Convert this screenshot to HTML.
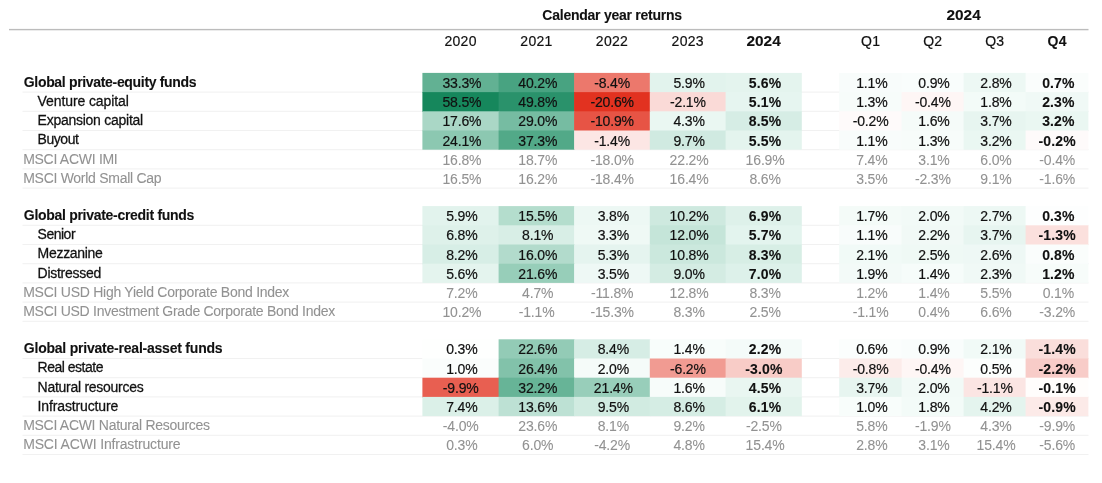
<!DOCTYPE html>
<html><head><meta charset="utf-8"><title>Calendar year returns</title>
<style>
html,body{margin:0;padding:0;background:#fff;}
body{width:1102px;height:483px;position:relative;overflow:hidden;font-family:"Liberation Sans",sans-serif;font-size:14px;line-height:16px;color:#111;-webkit-text-stroke:0.2px #111;}
svg{position:absolute;left:0;top:0;}
.a{position:absolute;white-space:nowrap;letter-spacing:-0.25px;}
.c{position:absolute;text-align:center;white-space:nowrap;letter-spacing:-0.15px;}
.w{display:inline-block;transform:scaleX(1.1);}
.b{font-weight:bold;-webkit-text-stroke:0.1px #111;}
.s{-webkit-text-stroke:0.26px #111;}
.m{color:#929292;-webkit-text-stroke:0.08px #929292;}
</style></head><body>

<svg width="1102" height="483" viewBox="0 0 1102 483">
<rect x="9" y="28.9" width="1079.5" height="1.4" fill="#bcbcbc"/>
<rect x="22.5" y="91.6" width="1066" height="1" fill="#f1f1f1"/>
<rect x="22.5" y="110.8" width="1066" height="1" fill="#f1f1f1"/>
<rect x="22.5" y="130.0" width="1066" height="1" fill="#f1f1f1"/>
<rect x="22.5" y="149.2" width="1066" height="1" fill="#f1f1f1"/>
<rect x="22.5" y="168.4" width="1066" height="1" fill="#f1f1f1"/>
<rect x="22.5" y="187.6" width="1066" height="1" fill="#f1f1f1"/>
<rect x="422.4" y="72.9" width="76.9" height="19.9" fill="rgb(98,177,147)"/>
<rect x="498.6" y="72.9" width="76.2" height="19.9" fill="rgb(72,163,129)"/>
<rect x="574.1" y="72.9" width="76.4" height="19.9" fill="rgb(236,120,108)"/>
<rect x="649.8" y="72.9" width="76.5" height="19.9" fill="rgb(226,243,237)"/>
<rect x="725.6" y="72.9" width="76.2" height="19.9" fill="rgb(228,244,238)"/>
<rect x="839.2" y="72.9" width="63.1" height="19.9" fill="rgb(248,252,251)"/>
<rect x="901.6" y="72.9" width="62.7" height="19.9" fill="rgb(249,253,252)"/>
<rect x="963.6" y="72.9" width="62.7" height="19.9" fill="rgb(237,248,244)"/>
<rect x="1025.6" y="72.9" width="62.8" height="19.9" fill="rgb(250,253,252)"/>
<rect x="422.4" y="92.1" width="76.9" height="19.9" fill="rgb(22,135,92)"/>
<rect x="498.6" y="92.1" width="76.2" height="19.9" fill="rgb(42,146,107)"/>
<rect x="574.1" y="92.1" width="76.4" height="19.9" fill="rgb(226,50,32)"/>
<rect x="649.8" y="92.1" width="76.5" height="19.9" fill="rgb(250,218,215)"/>
<rect x="725.6" y="92.1" width="76.2" height="19.9" fill="rgb(230,245,240)"/>
<rect x="839.2" y="92.1" width="63.1" height="19.9" fill="rgb(247,252,250)"/>
<rect x="901.6" y="92.1" width="62.7" height="19.9" fill="rgb(254,246,245)"/>
<rect x="963.6" y="92.1" width="62.7" height="19.9" fill="rgb(243,251,248)"/>
<rect x="1025.6" y="92.1" width="62.8" height="19.9" fill="rgb(240,249,246)"/>
<rect x="422.4" y="111.3" width="76.9" height="19.9" fill="rgb(170,215,198)"/>
<rect x="498.6" y="111.3" width="76.2" height="19.9" fill="rgb(118,188,162)"/>
<rect x="574.1" y="111.3" width="76.4" height="19.9" fill="rgb(231,84,69)"/>
<rect x="649.8" y="111.3" width="76.5" height="19.9" fill="rgb(234,247,242)"/>
<rect x="725.6" y="111.3" width="76.2" height="19.9" fill="rgb(214,237,229)"/>
<rect x="839.2" y="111.3" width="63.1" height="19.9" fill="rgb(254,250,250)"/>
<rect x="901.6" y="111.3" width="62.7" height="19.9" fill="rgb(245,251,249)"/>
<rect x="963.6" y="111.3" width="62.7" height="19.9" fill="rgb(231,245,240)"/>
<rect x="1025.6" y="111.3" width="62.8" height="19.9" fill="rgb(234,247,242)"/>
<rect x="422.4" y="130.5" width="76.9" height="19.2" fill="rgb(140,200,177)"/>
<rect x="498.6" y="130.5" width="76.2" height="19.2" fill="rgb(82,169,136)"/>
<rect x="574.1" y="130.5" width="76.4" height="19.2" fill="rgb(252,230,228)"/>
<rect x="649.8" y="130.5" width="76.5" height="19.2" fill="rgb(208,234,225)"/>
<rect x="725.6" y="130.5" width="76.2" height="19.2" fill="rgb(228,244,238)"/>
<rect x="839.2" y="130.5" width="63.1" height="19.2" fill="rgb(248,252,251)"/>
<rect x="901.6" y="130.5" width="62.7" height="19.2" fill="rgb(247,252,250)"/>
<rect x="963.6" y="130.5" width="62.7" height="19.2" fill="rgb(234,247,242)"/>
<rect x="1025.6" y="130.5" width="62.8" height="19.2" fill="rgb(254,250,250)"/>
<rect x="22.5" y="224.8" width="1066" height="1" fill="#f1f1f1"/>
<rect x="22.5" y="244.0" width="1066" height="1" fill="#f1f1f1"/>
<rect x="22.5" y="263.2" width="1066" height="1" fill="#f1f1f1"/>
<rect x="22.5" y="282.4" width="1066" height="1" fill="#f1f1f1"/>
<rect x="22.5" y="301.6" width="1066" height="1" fill="#f1f1f1"/>
<rect x="22.5" y="320.8" width="1066" height="1" fill="#f1f1f1"/>
<rect x="422.4" y="206.1" width="76.9" height="19.9" fill="rgb(226,243,237)"/>
<rect x="498.6" y="206.1" width="76.2" height="19.9" fill="rgb(180,221,205)"/>
<rect x="574.1" y="206.1" width="76.4" height="19.9" fill="rgb(237,248,244)"/>
<rect x="649.8" y="206.1" width="76.5" height="19.9" fill="rgb(206,233,223)"/>
<rect x="725.6" y="206.1" width="76.2" height="19.9" fill="rgb(222,241,234)"/>
<rect x="839.2" y="206.1" width="63.1" height="19.9" fill="rgb(244,251,248)"/>
<rect x="901.6" y="206.1" width="62.7" height="19.9" fill="rgb(242,250,247)"/>
<rect x="963.6" y="206.1" width="62.7" height="19.9" fill="rgb(237,248,244)"/>
<rect x="1025.6" y="206.1" width="62.8" height="19.9" fill="rgb(253,254,254)"/>
<rect x="422.4" y="225.3" width="76.9" height="19.9" fill="rgb(222,241,234)"/>
<rect x="498.6" y="225.3" width="76.2" height="19.9" fill="rgb(216,238,230)"/>
<rect x="574.1" y="225.3" width="76.4" height="19.9" fill="rgb(239,249,245)"/>
<rect x="649.8" y="225.3" width="76.5" height="19.9" fill="rgb(197,229,217)"/>
<rect x="725.6" y="225.3" width="76.2" height="19.9" fill="rgb(227,244,238)"/>
<rect x="839.2" y="225.3" width="63.1" height="19.9" fill="rgb(248,252,251)"/>
<rect x="901.6" y="225.3" width="62.7" height="19.9" fill="rgb(241,249,246)"/>
<rect x="963.6" y="225.3" width="62.7" height="19.9" fill="rgb(231,245,240)"/>
<rect x="1025.6" y="225.3" width="62.8" height="19.9" fill="rgb(251,224,221)"/>
<rect x="422.4" y="244.5" width="76.9" height="19.9" fill="rgb(215,238,230)"/>
<rect x="498.6" y="244.5" width="76.2" height="19.9" fill="rgb(178,219,204)"/>
<rect x="574.1" y="244.5" width="76.4" height="19.9" fill="rgb(229,244,239)"/>
<rect x="649.8" y="244.5" width="76.5" height="19.9" fill="rgb(203,232,221)"/>
<rect x="725.6" y="244.5" width="76.2" height="19.9" fill="rgb(215,238,229)"/>
<rect x="839.2" y="244.5" width="63.1" height="19.9" fill="rgb(241,250,247)"/>
<rect x="901.6" y="244.5" width="62.7" height="19.9" fill="rgb(239,249,245)"/>
<rect x="963.6" y="244.5" width="62.7" height="19.9" fill="rgb(238,248,245)"/>
<rect x="1025.6" y="244.5" width="62.8" height="19.9" fill="rgb(250,253,252)"/>
<rect x="422.4" y="263.7" width="76.9" height="19.2" fill="rgb(228,244,238)"/>
<rect x="498.6" y="263.7" width="76.2" height="19.2" fill="rgb(151,206,185)"/>
<rect x="574.1" y="263.7" width="76.4" height="19.2" fill="rgb(238,248,245)"/>
<rect x="649.8" y="263.7" width="76.5" height="19.2" fill="rgb(212,236,227)"/>
<rect x="725.6" y="263.7" width="76.2" height="19.2" fill="rgb(221,241,234)"/>
<rect x="839.2" y="263.7" width="63.1" height="19.2" fill="rgb(243,250,248)"/>
<rect x="901.6" y="263.7" width="62.7" height="19.2" fill="rgb(246,252,250)"/>
<rect x="963.6" y="263.7" width="62.7" height="19.2" fill="rgb(240,249,246)"/>
<rect x="1025.6" y="263.7" width="62.8" height="19.2" fill="rgb(247,252,250)"/>
<rect x="22.5" y="358.0" width="1066" height="1" fill="#f1f1f1"/>
<rect x="22.5" y="377.2" width="1066" height="1" fill="#f1f1f1"/>
<rect x="22.5" y="396.4" width="1066" height="1" fill="#f1f1f1"/>
<rect x="22.5" y="415.6" width="1066" height="1" fill="#f1f1f1"/>
<rect x="22.5" y="434.8" width="1066" height="1" fill="#f1f1f1"/>
<rect x="22.5" y="454.0" width="1066" height="1" fill="#f1f1f1"/>
<rect x="422.4" y="339.3" width="76.9" height="19.9" fill="rgb(254,255,254)"/>
<rect x="498.6" y="339.3" width="76.2" height="19.9" fill="rgb(147,203,182)"/>
<rect x="574.1" y="339.3" width="76.4" height="19.9" fill="rgb(214,237,229)"/>
<rect x="649.8" y="339.3" width="76.5" height="19.9" fill="rgb(248,253,251)"/>
<rect x="725.6" y="339.3" width="76.2" height="19.9" fill="rgb(244,251,249)"/>
<rect x="839.2" y="339.3" width="63.1" height="19.9" fill="rgb(251,254,253)"/>
<rect x="901.6" y="339.3" width="62.7" height="19.9" fill="rgb(249,253,252)"/>
<rect x="963.6" y="339.3" width="62.7" height="19.9" fill="rgb(241,250,247)"/>
<rect x="1025.6" y="339.3" width="62.8" height="19.9" fill="rgb(250,222,219)"/>
<rect x="422.4" y="358.5" width="76.9" height="19.9" fill="rgb(250,253,252)"/>
<rect x="498.6" y="358.5" width="76.2" height="19.9" fill="rgb(130,194,170)"/>
<rect x="574.1" y="358.5" width="76.4" height="19.9" fill="rgb(245,251,249)"/>
<rect x="649.8" y="358.5" width="76.5" height="19.9" fill="rgb(241,155,146)"/>
<rect x="725.6" y="358.5" width="76.2" height="19.9" fill="rgb(248,204,199)"/>
<rect x="839.2" y="358.5" width="63.1" height="19.9" fill="rgb(252,236,234)"/>
<rect x="901.6" y="358.5" width="62.7" height="19.9" fill="rgb(254,246,245)"/>
<rect x="963.6" y="358.5" width="62.7" height="19.9" fill="rgb(252,254,253)"/>
<rect x="1025.6" y="358.5" width="62.8" height="19.9" fill="rgb(248,204,200)"/>
<rect x="422.4" y="377.7" width="76.9" height="19.9" fill="rgb(232,95,81)"/>
<rect x="498.6" y="377.7" width="76.2" height="19.9" fill="rgb(103,180,151)"/>
<rect x="574.1" y="377.7" width="76.4" height="19.9" fill="rgb(152,206,186)"/>
<rect x="649.8" y="377.7" width="76.5" height="19.9" fill="rgb(247,252,250)"/>
<rect x="725.6" y="377.7" width="76.2" height="19.9" fill="rgb(233,246,241)"/>
<rect x="839.2" y="377.7" width="63.1" height="19.9" fill="rgb(231,245,240)"/>
<rect x="901.6" y="377.7" width="62.7" height="19.9" fill="rgb(242,250,247)"/>
<rect x="963.6" y="377.7" width="62.7" height="19.9" fill="rgb(251,229,227)"/>
<rect x="1025.6" y="377.7" width="62.8" height="19.9" fill="rgb(255,253,252)"/>
<rect x="422.4" y="396.9" width="76.9" height="19.2" fill="rgb(219,240,232)"/>
<rect x="498.6" y="396.9" width="76.2" height="19.2" fill="rgb(189,225,212)"/>
<rect x="574.1" y="396.9" width="76.4" height="19.2" fill="rgb(209,235,225)"/>
<rect x="649.8" y="396.9" width="76.5" height="19.2" fill="rgb(213,237,228)"/>
<rect x="725.6" y="396.9" width="76.2" height="19.2" fill="rgb(226,243,236)"/>
<rect x="839.2" y="396.9" width="63.1" height="19.2" fill="rgb(248,253,251)"/>
<rect x="901.6" y="396.9" width="62.7" height="19.2" fill="rgb(243,251,248)"/>
<rect x="963.6" y="396.9" width="62.7" height="19.2" fill="rgb(228,244,238)"/>
<rect x="1025.6" y="396.9" width="62.8" height="19.2" fill="rgb(252,234,232)"/>
</svg>
<div class="a b" style="left:422.4px;width:379.4px;top:7px;text-align:center;">Calendar year returns</div>
<div class="a b" style="left:839.2px;width:249.2px;top:7px;text-align:center;letter-spacing:0;"><span class="w">2024</span></div>
<div class="c" style="left:422.5px;width:76.2px;top:33px;letter-spacing:0.3px;">2020</div>
<div class="c" style="left:498.8px;width:75.5px;top:33px;letter-spacing:0.3px;">2021</div>
<div class="c" style="left:574.2px;width:75.7px;top:33px;letter-spacing:0.3px;">2022</div>
<div class="c" style="left:649.9px;width:75.8px;top:33px;letter-spacing:0.3px;">2023</div>
<div class="c b" style="left:725.6px;width:76.2px;top:33px;letter-spacing:0px;"><span class="w">2024</span></div>
<div class="c" style="left:839.4px;width:62.4px;top:33px;letter-spacing:0.3px;">Q1</div>
<div class="c" style="left:901.8px;width:62.0px;top:33px;letter-spacing:0.3px;">Q2</div>
<div class="c" style="left:963.8px;width:62.0px;top:33px;letter-spacing:0.3px;">Q3</div>
<div class="c b" style="left:1025.8px;width:62.8px;top:33px;letter-spacing:0.3px;">Q4</div>
<div class="a b" style="left:23.8px;top:74px;letter-spacing:-0.327px;">Global private-equity funds</div>
<div class="c" style="left:423.8px;width:76.2px;top:75px;">33.3%</div>
<div class="c" style="left:500.0px;width:75.5px;top:75px;">40.2%</div>
<div class="c" style="left:574.3px;width:75.7px;top:75px;">-8.4%</div>
<div class="c" style="left:651.2px;width:75.8px;top:75px;">5.9%</div>
<div class="c b" style="left:727.0px;width:76.2px;top:75px;letter-spacing:0.15px;">5.6%</div>
<div class="c" style="left:840.6px;width:62.4px;top:75px;">1.1%</div>
<div class="c" style="left:903.0px;width:62.0px;top:75px;">0.9%</div>
<div class="c" style="left:965.0px;width:62.0px;top:75px;">2.8%</div>
<div class="c b" style="left:1027.0px;width:62.8px;top:75px;letter-spacing:0.15px;">0.7%</div>
<div class="a s" style="left:37.6px;top:93px;letter-spacing:-0.101px;">Venture capital</div>
<div class="c" style="left:423.8px;width:76.2px;top:94px;">58.5%</div>
<div class="c" style="left:500.0px;width:75.5px;top:94px;">49.8%</div>
<div class="c" style="left:574.3px;width:75.7px;top:94px;">-20.6%</div>
<div class="c" style="left:650.0px;width:75.8px;top:94px;">-2.1%</div>
<div class="c b" style="left:727.0px;width:76.2px;top:94px;letter-spacing:0.15px;">5.1%</div>
<div class="c" style="left:840.6px;width:62.4px;top:94px;">1.3%</div>
<div class="c" style="left:901.8px;width:62.0px;top:94px;">-0.4%</div>
<div class="c" style="left:965.0px;width:62.0px;top:94px;">1.8%</div>
<div class="c b" style="left:1027.0px;width:62.8px;top:94px;letter-spacing:0.15px;">2.3%</div>
<div class="a s" style="left:37.6px;top:112px;letter-spacing:-0.26px;">Expansion capital</div>
<div class="c" style="left:423.8px;width:76.2px;top:113px;">17.6%</div>
<div class="c" style="left:500.0px;width:75.5px;top:113px;">29.0%</div>
<div class="c" style="left:574.3px;width:75.7px;top:113px;">-10.9%</div>
<div class="c" style="left:651.2px;width:75.8px;top:113px;">4.3%</div>
<div class="c b" style="left:727.0px;width:76.2px;top:113px;letter-spacing:0.15px;">8.5%</div>
<div class="c" style="left:839.4px;width:62.4px;top:113px;">-0.2%</div>
<div class="c" style="left:903.0px;width:62.0px;top:113px;">1.6%</div>
<div class="c" style="left:965.0px;width:62.0px;top:113px;">3.7%</div>
<div class="c b" style="left:1027.0px;width:62.8px;top:113px;letter-spacing:0.15px;">3.2%</div>
<div class="a s" style="left:37.6px;top:131px;letter-spacing:-0.458px;">Buyout</div>
<div class="c" style="left:423.8px;width:76.2px;top:133px;">24.1%</div>
<div class="c" style="left:500.0px;width:75.5px;top:133px;">37.3%</div>
<div class="c" style="left:574.3px;width:75.7px;top:133px;">-1.4%</div>
<div class="c" style="left:651.2px;width:75.8px;top:133px;">9.7%</div>
<div class="c b" style="left:727.0px;width:76.2px;top:133px;letter-spacing:0.15px;">5.5%</div>
<div class="c" style="left:840.6px;width:62.4px;top:133px;">1.1%</div>
<div class="c" style="left:903.0px;width:62.0px;top:133px;">1.3%</div>
<div class="c" style="left:965.0px;width:62.0px;top:133px;">3.2%</div>
<div class="c b" style="left:1025.8px;width:62.8px;top:133px;letter-spacing:0.15px;">-0.2%</div>
<div class="a m" style="left:23.2px;top:151px;letter-spacing:-0.286px;">MSCI ACWI IMI</div>
<div class="c m" style="left:423.8px;width:76.2px;top:152px;">16.8%</div>
<div class="c m" style="left:500.0px;width:75.5px;top:152px;">18.7%</div>
<div class="c m" style="left:574.3px;width:75.7px;top:152px;">-18.0%</div>
<div class="c m" style="left:651.2px;width:75.8px;top:152px;">22.2%</div>
<div class="c m" style="left:727.0px;width:76.2px;top:152px;">16.9%</div>
<div class="c m" style="left:840.6px;width:62.4px;top:152px;">7.4%</div>
<div class="c m" style="left:903.0px;width:62.0px;top:152px;">3.1%</div>
<div class="c m" style="left:965.0px;width:62.0px;top:152px;">6.0%</div>
<div class="c m" style="left:1025.8px;width:62.8px;top:152px;">-0.4%</div>
<div class="a m" style="left:23.2px;top:170px;letter-spacing:-0.28px;">MSCI World Small Cap</div>
<div class="c m" style="left:423.8px;width:76.2px;top:171px;">16.5%</div>
<div class="c m" style="left:500.0px;width:75.5px;top:171px;">16.2%</div>
<div class="c m" style="left:574.3px;width:75.7px;top:171px;">-18.4%</div>
<div class="c m" style="left:651.2px;width:75.8px;top:171px;">16.4%</div>
<div class="c m" style="left:727.0px;width:76.2px;top:171px;">8.6%</div>
<div class="c m" style="left:840.6px;width:62.4px;top:171px;">3.5%</div>
<div class="c m" style="left:901.8px;width:62.0px;top:171px;">-2.3%</div>
<div class="c m" style="left:965.0px;width:62.0px;top:171px;">9.1%</div>
<div class="c m" style="left:1025.8px;width:62.8px;top:171px;">-1.6%</div>
<div class="a b" style="left:23.8px;top:207px;letter-spacing:-0.293px;">Global private-credit funds</div>
<div class="c" style="left:423.8px;width:76.2px;top:208px;">5.9%</div>
<div class="c" style="left:500.0px;width:75.5px;top:208px;">15.5%</div>
<div class="c" style="left:575.5px;width:75.7px;top:208px;">3.8%</div>
<div class="c" style="left:651.2px;width:75.8px;top:208px;">10.2%</div>
<div class="c b" style="left:727.0px;width:76.2px;top:208px;letter-spacing:0.15px;">6.9%</div>
<div class="c" style="left:840.6px;width:62.4px;top:208px;">1.7%</div>
<div class="c" style="left:903.0px;width:62.0px;top:208px;">2.0%</div>
<div class="c" style="left:965.0px;width:62.0px;top:208px;">2.7%</div>
<div class="c b" style="left:1027.0px;width:62.8px;top:208px;letter-spacing:0.15px;">0.3%</div>
<div class="a s" style="left:37.6px;top:226px;letter-spacing:-0.498px;">Senior</div>
<div class="c" style="left:423.8px;width:76.2px;top:227px;">6.8%</div>
<div class="c" style="left:500.0px;width:75.5px;top:227px;">8.1%</div>
<div class="c" style="left:575.5px;width:75.7px;top:227px;">3.3%</div>
<div class="c" style="left:651.2px;width:75.8px;top:227px;">12.0%</div>
<div class="c b" style="left:727.0px;width:76.2px;top:227px;letter-spacing:0.15px;">5.7%</div>
<div class="c" style="left:840.6px;width:62.4px;top:227px;">1.1%</div>
<div class="c" style="left:903.0px;width:62.0px;top:227px;">2.2%</div>
<div class="c" style="left:965.0px;width:62.0px;top:227px;">3.7%</div>
<div class="c b" style="left:1025.8px;width:62.8px;top:227px;letter-spacing:0.15px;">-1.3%</div>
<div class="a s" style="left:37.6px;top:245px;letter-spacing:-0.3px;">Mezzanine</div>
<div class="c" style="left:423.8px;width:76.2px;top:247px;">8.2%</div>
<div class="c" style="left:500.0px;width:75.5px;top:247px;">16.0%</div>
<div class="c" style="left:575.5px;width:75.7px;top:247px;">5.3%</div>
<div class="c" style="left:651.2px;width:75.8px;top:247px;">10.8%</div>
<div class="c b" style="left:727.0px;width:76.2px;top:247px;letter-spacing:0.15px;">8.3%</div>
<div class="c" style="left:840.6px;width:62.4px;top:247px;">2.1%</div>
<div class="c" style="left:903.0px;width:62.0px;top:247px;">2.5%</div>
<div class="c" style="left:965.0px;width:62.0px;top:247px;">2.6%</div>
<div class="c b" style="left:1027.0px;width:62.8px;top:247px;letter-spacing:0.15px;">0.8%</div>
<div class="a s" style="left:37.6px;top:265px;letter-spacing:-0.28px;">Distressed</div>
<div class="c" style="left:423.8px;width:76.2px;top:266px;">5.6%</div>
<div class="c" style="left:500.0px;width:75.5px;top:266px;">21.6%</div>
<div class="c" style="left:575.5px;width:75.7px;top:266px;">3.5%</div>
<div class="c" style="left:651.2px;width:75.8px;top:266px;">9.0%</div>
<div class="c b" style="left:727.0px;width:76.2px;top:266px;letter-spacing:0.15px;">7.0%</div>
<div class="c" style="left:840.6px;width:62.4px;top:266px;">1.9%</div>
<div class="c" style="left:903.0px;width:62.0px;top:266px;">1.4%</div>
<div class="c" style="left:965.0px;width:62.0px;top:266px;">2.3%</div>
<div class="c b" style="left:1027.0px;width:62.8px;top:266px;letter-spacing:0.15px;">1.2%</div>
<div class="a m" style="left:23.2px;top:284px;letter-spacing:-0.258px;">MSCI USD High Yield Corporate Bond Index</div>
<div class="c m" style="left:423.8px;width:76.2px;top:285px;">7.2%</div>
<div class="c m" style="left:500.0px;width:75.5px;top:285px;">4.7%</div>
<div class="c m" style="left:574.3px;width:75.7px;top:285px;">-11.8%</div>
<div class="c m" style="left:651.2px;width:75.8px;top:285px;">12.8%</div>
<div class="c m" style="left:727.0px;width:76.2px;top:285px;">8.3%</div>
<div class="c m" style="left:840.6px;width:62.4px;top:285px;">1.2%</div>
<div class="c m" style="left:903.0px;width:62.0px;top:285px;">1.4%</div>
<div class="c m" style="left:965.0px;width:62.0px;top:285px;">5.5%</div>
<div class="c m" style="left:1027.0px;width:62.8px;top:285px;">0.1%</div>
<div class="a m" style="left:23.2px;top:303px;letter-spacing:-0.276px;">MSCI USD Investment Grade Corporate Bond Index</div>
<div class="c m" style="left:423.8px;width:76.2px;top:304px;">10.2%</div>
<div class="c m" style="left:498.8px;width:75.5px;top:304px;">-1.1%</div>
<div class="c m" style="left:574.3px;width:75.7px;top:304px;">-15.3%</div>
<div class="c m" style="left:651.2px;width:75.8px;top:304px;">8.3%</div>
<div class="c m" style="left:727.0px;width:76.2px;top:304px;">2.5%</div>
<div class="c m" style="left:839.4px;width:62.4px;top:304px;">-1.1%</div>
<div class="c m" style="left:903.0px;width:62.0px;top:304px;">0.4%</div>
<div class="c m" style="left:965.0px;width:62.0px;top:304px;">6.6%</div>
<div class="c m" style="left:1025.8px;width:62.8px;top:304px;">-3.2%</div>
<div class="a b" style="left:23.8px;top:340px;letter-spacing:-0.22px;">Global private-real-asset funds</div>
<div class="c" style="left:423.8px;width:76.2px;top:341px;">0.3%</div>
<div class="c" style="left:500.0px;width:75.5px;top:341px;">22.6%</div>
<div class="c" style="left:575.5px;width:75.7px;top:341px;">8.4%</div>
<div class="c" style="left:651.2px;width:75.8px;top:341px;">1.4%</div>
<div class="c b" style="left:727.0px;width:76.2px;top:341px;letter-spacing:0.15px;">2.2%</div>
<div class="c" style="left:840.6px;width:62.4px;top:341px;">0.6%</div>
<div class="c" style="left:903.0px;width:62.0px;top:341px;">0.9%</div>
<div class="c" style="left:965.0px;width:62.0px;top:341px;">2.1%</div>
<div class="c b" style="left:1025.8px;width:62.8px;top:341px;letter-spacing:0.15px;">-1.4%</div>
<div class="a s" style="left:37.6px;top:359px;letter-spacing:-0.5px;">Real estate</div>
<div class="c" style="left:423.8px;width:76.2px;top:361px;">1.0%</div>
<div class="c" style="left:500.0px;width:75.5px;top:361px;">26.4%</div>
<div class="c" style="left:575.5px;width:75.7px;top:361px;">2.0%</div>
<div class="c" style="left:650.0px;width:75.8px;top:361px;">-6.2%</div>
<div class="c b" style="left:725.8px;width:76.2px;top:361px;letter-spacing:0.15px;">-3.0%</div>
<div class="c" style="left:839.4px;width:62.4px;top:361px;">-0.8%</div>
<div class="c" style="left:901.8px;width:62.0px;top:361px;">-0.4%</div>
<div class="c" style="left:965.0px;width:62.0px;top:361px;">0.5%</div>
<div class="c b" style="left:1025.8px;width:62.8px;top:361px;letter-spacing:0.15px;">-2.2%</div>
<div class="a s" style="left:37.6px;top:379px;letter-spacing:-0.27px;">Natural resources</div>
<div class="c" style="left:422.6px;width:76.2px;top:380px;">-9.9%</div>
<div class="c" style="left:500.0px;width:75.5px;top:380px;">32.2%</div>
<div class="c" style="left:575.5px;width:75.7px;top:380px;">21.4%</div>
<div class="c" style="left:651.2px;width:75.8px;top:380px;">1.6%</div>
<div class="c b" style="left:727.0px;width:76.2px;top:380px;letter-spacing:0.15px;">4.5%</div>
<div class="c" style="left:840.6px;width:62.4px;top:380px;">3.7%</div>
<div class="c" style="left:903.0px;width:62.0px;top:380px;">2.0%</div>
<div class="c" style="left:963.8px;width:62.0px;top:380px;">-1.1%</div>
<div class="c b" style="left:1025.8px;width:62.8px;top:380px;letter-spacing:0.15px;">-0.1%</div>
<div class="a s" style="left:37.6px;top:398px;letter-spacing:-0.143px;">Infrastructure</div>
<div class="c" style="left:423.8px;width:76.2px;top:399px;">7.4%</div>
<div class="c" style="left:500.0px;width:75.5px;top:399px;">13.6%</div>
<div class="c" style="left:575.5px;width:75.7px;top:399px;">9.5%</div>
<div class="c" style="left:651.2px;width:75.8px;top:399px;">8.6%</div>
<div class="c b" style="left:727.0px;width:76.2px;top:399px;letter-spacing:0.15px;">6.1%</div>
<div class="c" style="left:840.6px;width:62.4px;top:399px;">1.0%</div>
<div class="c" style="left:903.0px;width:62.0px;top:399px;">1.8%</div>
<div class="c" style="left:965.0px;width:62.0px;top:399px;">4.2%</div>
<div class="c b" style="left:1025.8px;width:62.8px;top:399px;letter-spacing:0.15px;">-0.9%</div>
<div class="a m" style="left:23.2px;top:417px;letter-spacing:-0.293px;">MSCI ACWI Natural Resources</div>
<div class="c m" style="left:422.6px;width:76.2px;top:418px;">-4.0%</div>
<div class="c m" style="left:500.0px;width:75.5px;top:418px;">23.6%</div>
<div class="c m" style="left:575.5px;width:75.7px;top:418px;">8.1%</div>
<div class="c m" style="left:651.2px;width:75.8px;top:418px;">9.2%</div>
<div class="c m" style="left:725.8px;width:76.2px;top:418px;">-2.5%</div>
<div class="c m" style="left:840.6px;width:62.4px;top:418px;">5.8%</div>
<div class="c m" style="left:901.8px;width:62.0px;top:418px;">-1.9%</div>
<div class="c m" style="left:965.0px;width:62.0px;top:418px;">4.3%</div>
<div class="c m" style="left:1025.8px;width:62.8px;top:418px;">-9.9%</div>
<div class="a m" style="left:23.2px;top:436px;letter-spacing:-0.16px;">MSCI ACWI Infrastructure</div>
<div class="c m" style="left:423.8px;width:76.2px;top:437px;">0.3%</div>
<div class="c m" style="left:500.0px;width:75.5px;top:437px;">6.0%</div>
<div class="c m" style="left:574.3px;width:75.7px;top:437px;">-4.2%</div>
<div class="c m" style="left:651.2px;width:75.8px;top:437px;">4.8%</div>
<div class="c m" style="left:727.0px;width:76.2px;top:437px;">15.4%</div>
<div class="c m" style="left:840.6px;width:62.4px;top:437px;">2.8%</div>
<div class="c m" style="left:903.0px;width:62.0px;top:437px;">3.1%</div>
<div class="c m" style="left:965.0px;width:62.0px;top:437px;">15.4%</div>
<div class="c m" style="left:1025.8px;width:62.8px;top:437px;">-5.6%</div>
</body></html>
